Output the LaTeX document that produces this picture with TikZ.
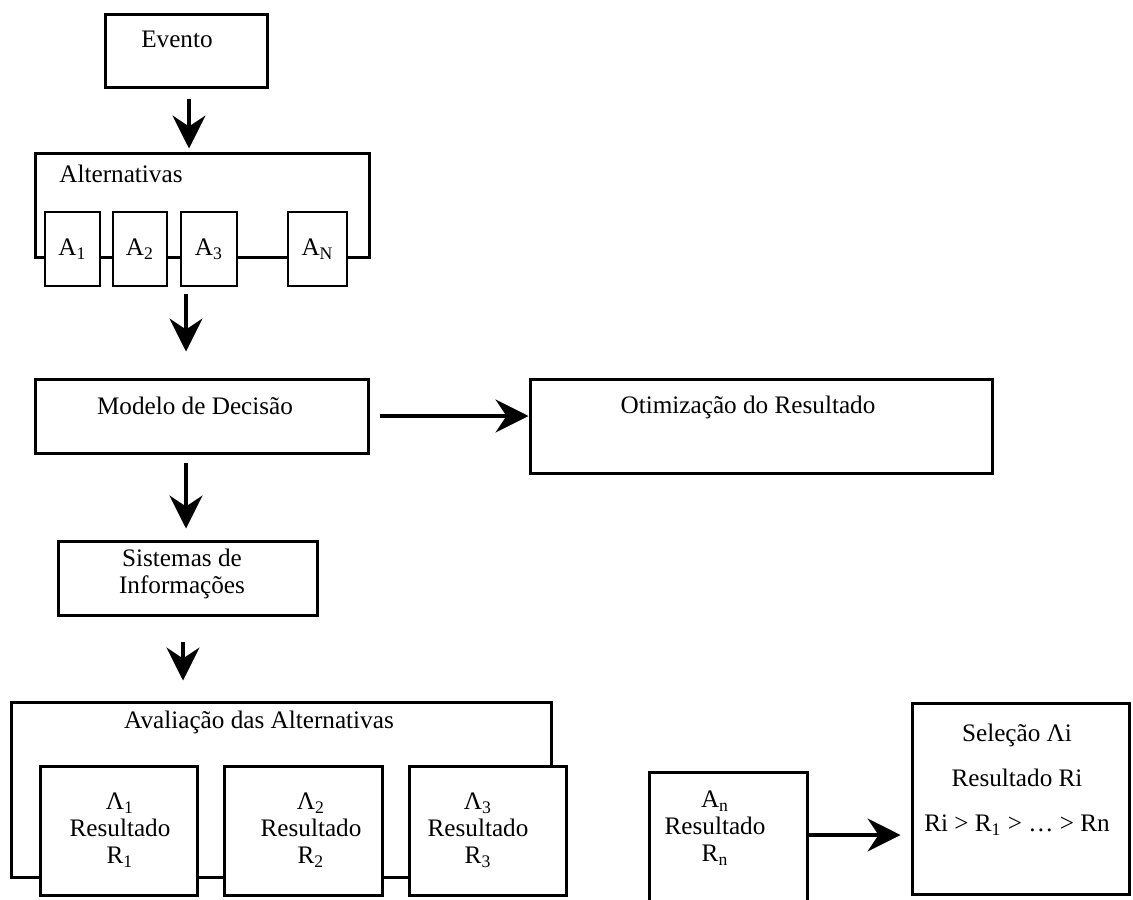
\documentclass[tikz,border=0pt]{standalone}
\usepackage{fontspec}
\setmainfont{Liberation Serif}
\usetikzlibrary{arrows.meta}
\begin{document}
\begin{tikzpicture}[x=0.5pt, y=-0.5pt,
  font=\fontsize{12.6}{13.5}\selectfont,
  box/.style={draw, line width=1.5pt, fill=white, inner sep=0pt},
  altbox/.style={draw, line width=1pt, fill=white, inner sep=0pt,
    minimum width=#1, minimum height=37pt},
  lbl/.style={inner sep=0pt, align=center},
  arr/.style={-{Stealth[length=16.5pt, width=16.5pt, inset=5.5pt]}, line width=1.7pt}]
  \useasboundingbox (0,0) rectangle (1133,899);
  \clip (0,0) rectangle (1133,899);
  \coordinate (axis) at (186,0);

  \node[box, minimum width=81pt, minimum height=36.5pt] (evento) at (186,51.5) {};
  \node[lbl] (tevento) at (177,39) {Evento};

  \node[box, minimum width=167pt, minimum height=52pt] (alts) at (202,205) {};
  \node[lbl, anchor=west] (talts) at (59,174) {Alternativas};
  \node[altbox=27.5pt] (a1) at (72.5,249) {A\textsubscript{1}};
  \node[altbox=27pt] (a2) at (140,249) {A\textsubscript{2}};
  \node[altbox=28pt] (a3) at (209,249) {A\textsubscript{3}};
  \node[altbox=29.5pt] (aN) at (317.5,249) {A\textsubscript{N}};

  \node[box, minimum width=166.5pt, minimum height=37pt] (modelo) at (201.5,416) {};
  \node[lbl] (tmodelo) at (195,406) {Modelo de Decisão};

  \node[box, minimum width=231pt, minimum height=47pt] (otim) at (761,426) {};
  \node[lbl] (totim) at (748,407) {Otimização do Resultado};

  \node[box, minimum width=129.5pt, minimum height=37pt] (sist) at (187.5,578) {};
  \node[lbl] (tsist) at (182,574) {Sistemas de\\Informações};

  \node[box, minimum width=270pt, minimum height=87.5pt] (aval) at (281,789.5) {};
  \node[lbl] (taval) at (259,722) {Avaliação das Alternativas};
  \node[box, minimum width=78.5pt, minimum height=64.5pt] (r1) at (118.5,830.5) {};
  \node[lbl] (tr1) at (120,830) {Λ\textsubscript{1}\\Resultado\\R\textsubscript{1}};
  \node[box, minimum width=79pt, minimum height=64.5pt] (r2) at (303,830.5) {};
  \node[lbl] (tr2) at (311,830) {Λ\textsubscript{2}\\Resultado\\R\textsubscript{2}};
  \node[box, minimum width=78.5pt, minimum height=64.5pt] (r3) at (487.5,830.5) {};
  \node[lbl] (tr3) at (478,830) {Λ\textsubscript{3}\\Resultado\\R\textsubscript{3}};

  \node[box, minimum width=79pt, minimum height=66.5pt] (an) at (728,838.5) {};
  \node[lbl] (tan) at (715,828) {A\textsubscript{n}\\Resultado\\R\textsubscript{n}};

  \node[box, minimum width=108.5pt, minimum height=95.5pt] (sel) at (1020.5,798.5) {};
  \node[lbl] (tsel) at (1017,780) {Seleção Λi\\[9pt]Resultado Ri\\[9pt]Ri > R\textsubscript{1} > … > Rn};

  \draw[arr, shorten <=5pt, shorten >=1.5pt] ([xshift=1.5pt]evento.south) -- ([xshift=1.5pt]evento.south |- alts.north);
  \draw[arr, shorten <=3.5pt, shorten >=13pt] (a3.south -| axis) -- (axis |- modelo.north);
  \draw[arr, shorten <=5pt] (modelo.east) -- (modelo.east -| otim.west);
  \draw[arr, shorten <=4pt, shorten >=5.5pt] (modelo.south -| axis) -- (axis |- sist.north);
  \draw[arr, shorten <=12.5pt, shorten >=10pt] ([xshift=-1.5pt]sist.south -| axis) -- ([xshift=-1.5pt]axis |- aval.north);
  \draw[arr, shorten >=5pt] ([yshift=1.75pt]an.east) -- ([yshift=1.75pt]an.east -| sel.west);
\end{tikzpicture}
\end{document}
